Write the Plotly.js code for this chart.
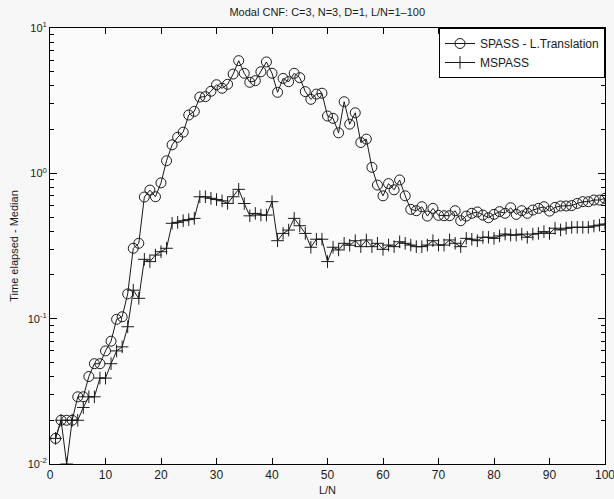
<!DOCTYPE html>
<html>
<head>
<meta charset="utf-8">
<script src="https://cdn.plot.ly/plotly-3.0.1.min.js"></script>
<style>html,body{margin:0;padding:0;background:#f7f7f7;}#chart{width:614px;height:499px;}</style>
</head>
<body>
<div id="chart"></div>
<script>
const ln = Array.from({length: 100}, (_, i) => i + 1);
const spassTranslation = [0.015,0.02,0.02,0.02,0.029,0.029,0.04,0.049,0.049,0.06,
0.07,0.099,0.103,0.148,0.305,0.33,0.687,0.767,0.69,0.86,
1.22,1.57,1.77,1.92,2.52,2.67,3.35,3.37,3.67,4.07,
3.85,4.1,4.82,5.96,4.88,4.23,4.34,5.0,5.84,4.88,
3.61,4.5,4.27,4.88,4.55,3.65,3.23,3.51,3.56,2.48,
2.39,1.9,3.11,2.18,2.61,1.63,1.72,1.1,0.83,0.70,
0.85,0.77,0.9,0.70,0.565,0.553,0.589,0.508,0.574,0.514,
0.511,0.511,0.553,0.472,0.508,0.531,0.542,0.516,0.495,0.522,
0.545,0.531,0.58,0.522,0.553,0.531,0.559,0.574,0.589,0.55,
0.583,0.596,0.596,0.6,0.621,0.638,0.638,0.655,0.655,0.673];
const mspass = [0.015,0.02,0.01,0.02,0.02,0.0245,0.029,0.029,0.039,0.039,
0.049,0.06,0.064,0.088,0.157,0.138,0.256,0.247,0.274,0.289,
0.305,0.453,0.46,0.472,0.48,0.49,0.69,0.69,0.673,0.66,
0.647,0.621,0.69,0.776,0.62,0.51,0.53,0.516,0.516,0.638,
0.344,0.386,0.407,0.49,0.436,0.386,0.31,0.352,0.352,0.247,
0.31,0.297,0.33,0.32,0.344,0.313,0.348,0.313,0.33,0.30,
0.321,0.313,0.338,0.33,0.321,0.313,0.313,0.321,0.344,0.321,
0.321,0.348,0.33,0.313,0.357,0.352,0.344,0.363,0.363,0.357,
0.371,0.382,0.376,0.376,0.382,0.363,0.382,0.386,0.397,0.386,
0.419,0.408,0.419,0.425,0.425,0.425,0.425,0.434,0.44,0.448];
const seriesNames = ["SPASS - L.Translation", "MSPASS"];
const xTicks = [0,10,20,30,40,50,60,70,80,90,100];
const yTickVals = [0.01, 0.1, 1, 10];
const yTickText = ["10<sup>-2</sup>", "10<sup>-1</sup>", "10<sup>0</sup>", "10<sup>1</sup>"];
const yMinorVals = [];
[0.01, 0.1, 1].forEach(d => { for (let k = 2; k <= 9; k++) yMinorVals.push(+(d * k).toPrecision(3)); });

const ink = "#000000";
const font = "Liberation Sans, Arial, sans-serif";

const traces = [
  {x: ln, y: spassTranslation, name: seriesNames[0], mode: "lines+markers",
   line: {color: "#1a1a1a", width: 1},
   marker: {symbol: "circle-open", size: 10, color: "#1a1a1a", line: {width: 1, color: "#1a1a1a"}}},
  {x: ln, y: mspass, name: seriesNames[1], mode: "lines+markers",
   line: {color: "#1a1a1a", width: 1},
   marker: {symbol: "cross-thin-open", size: 9, color: "#1a1a1a", line: {width: 1, color: "#1a1a1a"}}}
];

const layout = {
  width: 614, height: 499,
  margin: {l: 50, r: 9, t: 28, b: 35},
  paper_bgcolor: "#f7f7f7", plot_bgcolor: "#fbfbfb",
  font: {family: font, size: 12, color: "#1a1a1a"},
  title: {text: "Modal CNF: C=3, N=3, D=1, L/N=1\u2013100", font: {size: 11, family: font, color: "#1a1a1a"},
          x: 0.533, xanchor: "center", y: 0.976, yanchor: "middle"},
  showlegend: true,
  legend: {x: 1, xanchor: "right", y: 1, yanchor: "top", bgcolor: "#ffffff",
           bordercolor: ink, borderwidth: 1, font: {size: 12, family: font, color: "#1a1a1a"},
           tracegroupgap: 0, itemwidth: 30},
  xaxis: {range: [0, 100], tickmode: "array", tickvals: xTicks, ticktext: xTicks.map(String),
          ticks: "inside", ticklen: 6, tickwidth: 1, tickcolor: ink, showline: true, linecolor: ink, linewidth: 1,
          mirror: "allticks", showgrid: false, zeroline: false, automargin: false, ticklabeloverflow: "allow",
          tickfont: {size: 12, family: font, color: "#1a1a1a"},
          title: {text: "L/N", font: {size: 11, family: font, color: "#1a1a1a"}, standoff: 4}},
  yaxis: {type: "log", range: [-2, 1], tickmode: "array", tickvals: yTickVals, ticktext: yTickText,
          ticks: "inside", ticklen: 7, tickwidth: 1, tickcolor: ink, showline: true, linecolor: ink, linewidth: 1,
          mirror: "allticks", showgrid: false, zeroline: false, ticklabeloverflow: "allow",
          tickfont: {size: 11, family: font, color: "#1a1a1a"},
          minor: {ticks: "inside", ticklen: 4, tickwidth: 1, tickcolor: ink, tickmode: "array", tickvals: yMinorVals, showgrid: false},
          title: {text: "Time elapsed - Median", font: {size: 11, family: font, color: "#1a1a1a"}, standoff: 6}}
};

Plotly.newPlot("chart", traces, layout, {displayModeBar: false, staticPlot: true});
</script>
</body>
</html>
